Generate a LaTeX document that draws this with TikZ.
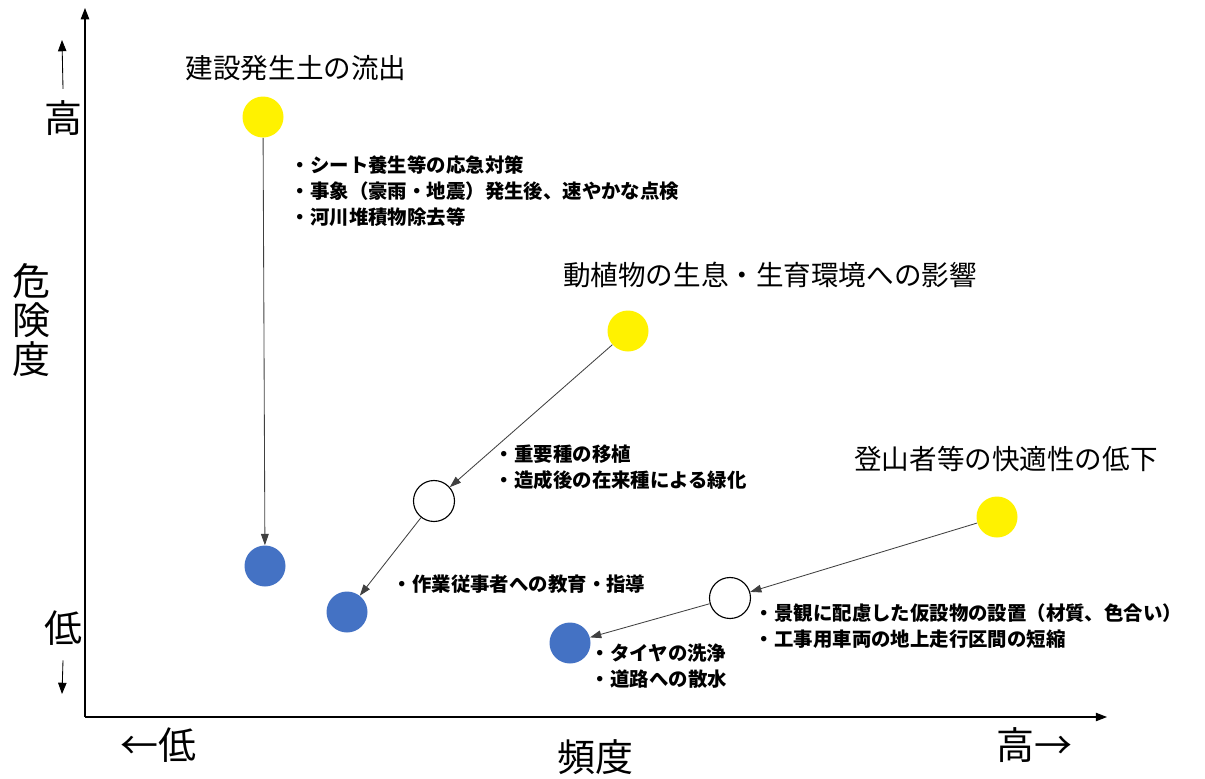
\documentclass[tikz,border=0pt]{standalone}
\usepackage{fontspec}
\setmainfont{Noto Sans CJK JP}
\usetikzlibrary{arrows.meta}
\definecolor{riskyellow}{RGB}{255, 242, 0}
\definecolor{riskblue}{RGB}{68, 114, 196}

\begin{document}
\begin{tikzpicture}[
    x=0.025cm, y=-0.025cm,
    dot/.style={circle, minimum size=41*0.025cm, inner sep=0pt},
    hi/.style={dot, fill=riskyellow},
    mid/.style={dot, draw, thick, fill=white},
    lo/.style={dot, fill=riskblue},
    ttl/.style={font=\fontsize{19.6}{22}\selectfont, anchor=center},
    note/.style={font=\fontsize{13.8}{18.5}\selectfont\bfseries, align=left, anchor=west},
    big/.style={font=\fontsize{27}{28}\selectfont},
    arr/.style={-{Triangle[length=8pt, width=5.5pt]}, draw=black!75, line width=0.6pt},
    ax/.style={-{Triangle[length=8pt, width=6pt]}, line width=0.8pt}
]
    \useasboundingbox (0,0) rectangle (1205,778);

    % axes
    \coordinate (o) at (85,717);
    \coordinate (ytop) at (85,8);
    \coordinate (xend) at (1107,717);
    \draw[ax] (o) -- (ytop);
    \draw[ax] (o) -- (xend);

    % axis labels
    \node[big] (yhi) at (63,118) {高};
    \node[big] (ylo) at (63,628) {低};
    \coordinate (uptop) at (62,40);
    \coordinate (dnbot) at (62,694);
    \draw[ax, line width=0.6pt] ([yshift=-8pt]yhi.north) ++(0,-18) coordinate (upbase) -- (uptop);
    \draw[ax, line width=0.6pt] (ylo.south) ++(0,10) coordinate (dnbase) -- (dnbot);
    \node[big, align=center] (risk) at (31,320) {危\\険\\度};
    \node[big] (xlo) at (158,745) {←低};
    \node[big] (freq) at (595,757) {頻度};
    \node[big] (xhi) at (1034,745) {高→};

    % soil run-off
    \node[ttl] (t1) at (296,68) {建設発生土の流出};
    \node[hi] (y1) at (263,117) {};
    \node[lo] (b1) at (265,566) {};
    \draw[arr] (y1) -- (b1);
    \node[note] (n1) at (286,191) {・シート養生等の応急対策\\・事象（豪雨・地震）発生後、速やかな点検\\・河川堆積物除去等};

    % fauna and flora
    \node[ttl] (t2) at (770,275) {動植物の生息・生育環境への影響};
    \node[hi] (y2) at (628,331) {};
    \node[mid] (w2) at (434,501) {};
    \node[lo] (b2) at (347,612) {};
    \draw[arr] (y2) -- (w2);
    \draw[arr] (w2) -- (b2);
    \node[note] (n2) at (490,467) {・重要種の移植\\・造成後の在来種による緑化};
    \node[note] (n2b) at (388,584) {・作業従事者への教育・指導};

    % hikers
    \node[ttl] (t3) at (1006,459) {登山者等の快適性の低下};
    \node[hi] (y3) at (997,517) {};
    \node[mid] (w3) at (730,598) {};
    \node[lo] (b3) at (570,643) {};
    \draw[arr] (y3) -- (w3);
    \draw[arr] (w3) -- (b3);
    \node[note] (n3) at (750,626) {・景観に配慮した仮設物の設置（材質、色合い）\\・工事用車両の地上走行区間の短縮};
    \node[note] (n3b) at (586,666) {・タイヤの洗浄\\・道路への散水};
\end{tikzpicture}
\end{document}
